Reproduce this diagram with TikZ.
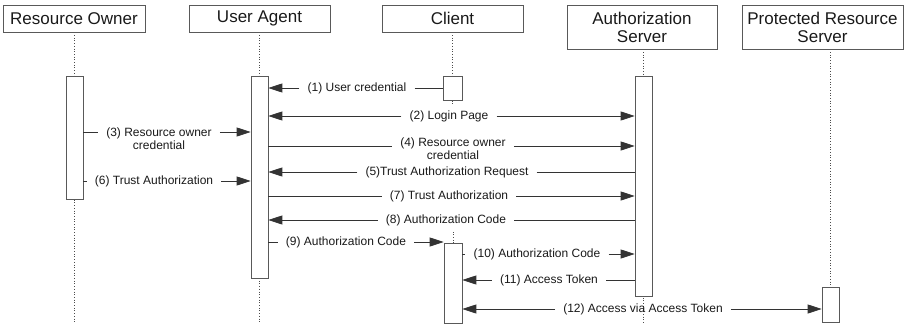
\documentclass[tikz,border=0pt]{standalone}
\usepackage{fontspec}
\setmainfont{Liberation Sans}
\usetikzlibrary{arrows.meta,backgrounds}

\begin{document}
\begin{tikzpicture}[x=1pt,y=-1pt,
                actor/.style={draw=black!65,line width=0.7pt,text=black!90,font=\fontsize{17}{18}\selectfont,align=center,inner sep=0pt},
                act/.style={draw=black!65,line width=0.7pt,fill=white,minimum width=17pt,anchor=north,inner sep=0pt},
                life/.style={black!70,line width=0.7pt,dotted},
                msg/.style={text=black!90,font=\fontsize{12}{13}\selectfont,align=center,inner xsep=8pt,inner ysep=1pt},
                call/.style={black!80,line width=0.8pt},
                >={Triangle[length=14pt,width=9pt]}]
                \useasboundingbox (0,0) rectangle (911,324);

                \node (ro) at (74,18.5) [actor,minimum width=142pt,minimum height=27pt] {Resource Owner};
                \node (ua) at (259.5,18.5) [actor,minimum width=141pt,minimum height=27pt] {User Agent};
                \node (cl) at (452.5,18.5) [actor,minimum width=141pt,minimum height=27pt] {Client};
                \node (as) at (642,27) [actor,minimum width=150pt,minimum height=44pt] {Authorization\\Server};
                \node (prs) at (822.5,27) [actor,minimum width=161pt,minimum height=44pt] {Protected Resource\\Server};

                \node (roAct) at (74.5,76) [act,minimum height=123pt] {};
                \node (uaAct) at (259.5,76) [act,minimum height=202pt] {};
                \node (clAct1) at (452.5,76) [act,minimum width=19pt,minimum height=24pt] {};
                \node (clAct2) at (453,243) [act,minimum width=18pt,minimum height=80pt] {};
                \node (asAct) at (643.5,76) [act,minimum height=220pt] {};
                \node (prsAct) at (830.5,287) [act,minimum height=35pt] {};

                \coordinate (bottom) at (0,323);
                \begin{scope}[on background layer]
                \draw[life] (ro.south -| roAct) -- (roAct |- bottom);
                \draw[life] (ua.south -| uaAct) -- (uaAct |- bottom);
                \draw[life] (cl.south -| clAct1) -- (clAct1.north);
                \draw[life] (clAct1.south) -- ++(0,5);
                \draw[life] (clAct2.north) -- ++(0,-11);
                \draw[life] (as.south -| asAct) -- (asAct |- bottom);
                \draw[life] (prs.south -| prsAct) -- (prsAct |- bottom);
                \end{scope}

                \node (m1) at (357,88) [msg] {(1) User credential};
                \node (m2) at (449,116) [msg] {(2) Login Page};
                \node (m3) at (159,138.5) [msg] {(3) Resource owner\\credential};
                \node (m4) at (453,148.5) [msg] {(4) Resource owner\\credential};
                \node (m5) at (447,172) [msg] {(5)Trust Authorization Request};
                \node (m6) at (154,181) [msg] {(6) Trust Authorization};
                \node (m7) at (449,196) [msg] {(7) Trust Authorization};
                \node (m8) at (446,220) [msg] {(8) Authorization Code};
                \node (m9) at (346,242) [msg] {(9) Authorization Code};
                \node (m10) at (537,254) [msg] {(10) Authorization Code};
                \node (m11) at (549,280) [msg] {(11) Access Token};
                \node (m12) at (643,309) [msg] {(12) Access via Access Token};
                \coordinate (y3) at (0,132);
                \coordinate (y4) at (0,146);

                \draw[call,->] (m1) -- (uaAct.east |- m1);
                \draw[call] (m1) -- (clAct1.west |- m1);
                \draw[call,->] (m2) -- (uaAct.east |- m2);
                \draw[call,->] (m2) -- (asAct.west |- m2);
                \draw[call] (roAct.east |- y3) -- (m3.west |- y3);
                \draw[call,->] (m3.east |- y3) -- (uaAct.west |- y3);
                \draw[call] (uaAct.east |- y4) -- (m4.west |- y4);
                \draw[call,->] (m4.east |- y4) -- (asAct.west |- y4);
                \draw[call,->] (m5) -- (uaAct.east |- m5);
                \draw[call] (m5) -- (asAct.west |- m5);
                \draw[call] (roAct.east |- m6) -- (m6);
                \draw[call,->] (m6) -- (uaAct.west |- m6);
                \draw[call] (uaAct.east |- m7) -- (m7);
                \draw[call,->] (m7) -- (asAct.west |- m7);
                \draw[call,->] (m8) -- (uaAct.east |- m8);
                \draw[call] (m8) -- (asAct.west |- m8);
                \draw[call] (uaAct.east |- m9) -- (m9);
                \draw[call,->] (m9) -- (clAct2.west |- m9);
                \draw[call] (clAct2.east |- m10) -- (m10);
                \draw[call,->] (m10) -- (asAct.west |- m10);
                \draw[call,->] (m11) -- (clAct2.east |- m11);
                \draw[call] (m11) -- (asAct.west |- m11);
                \draw[call,->] (m12) -- (clAct2.east |- m12);
                \draw[call,->] (m12) -- (prsAct.west |- m12);
            \end{tikzpicture}
\end{document}
